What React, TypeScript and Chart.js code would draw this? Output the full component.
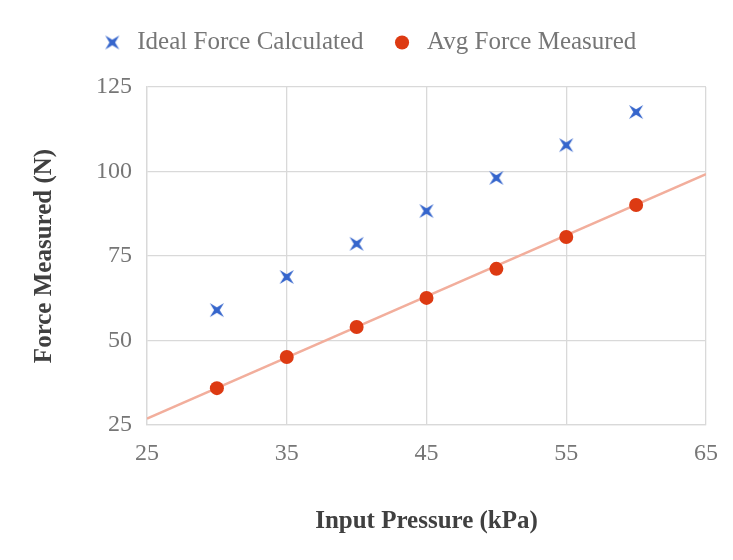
import { useRef, useEffect } from "react";
import Chart from "chart.js/auto";

const pressure = [30, 35, 40, 45, 50, 55, 60];
const idealForce = [59.0, 68.8, 78.6, 88.3, 98.1, 107.8, 117.6];
const avgForce = [35.9, 45.1, 54.0, 62.6, 71.2, 80.6, 90.1];
const trendX = [25, 65];
const trendY = [26.9, 99.2];

const FONT = "'Liberation Serif', 'DejaVu Serif', serif";

function makeStar(size: number, color: string) {
  const c = document.createElement("canvas");
  c.width = size;
  c.height = size;
  const ctx = c.getContext("2d")!;
  const r = size / 2;
  const inner = r * 0.28;
  ctx.translate(r, r);
  ctx.beginPath();
  for (let i = 0; i < 8; i++) {
    const a = Math.PI / 4 + (i * Math.PI) / 4;
    const rad = i % 2 === 0 ? r : inner;
    const px = Math.cos(a) * rad;
    const py = Math.sin(a) * rad;
    if (i === 0) ctx.moveTo(px, py);
    else ctx.lineTo(px, py);
  }
  ctx.closePath();
  ctx.fillStyle = color;
  ctx.fill();
  return c;
}

// make room under the legend, like the original
const legendSpace = {
  id: "legendSpace",
  beforeInit(chart: any) {
    const fit = chart.legend.fit;
    chart.legend.fit = function () {
      fit.call(this);
      this.height = 83;
    };
  },
};

export default function App() {
  const chartRef = useRef<HTMLCanvasElement>(null);
  const chartInstance = useRef<Chart | null>(null);

  useEffect(() => {
    document.body.style.margin = "0";
    if (chartRef.current && chartInstance.current === null) {
      const star = makeStar(20, "#3565CC");
      chartInstance.current = new Chart(chartRef.current, {
        type: "scatter",
        data: {
          datasets: [
            {
              label: "Ideal Force Calculated",
              data: pressure.map((x, i) => ({ x, y: idealForce[i] })),
              pointStyle: star,
              backgroundColor: "#3565CC",
              borderColor: "#3565CC",
              order: 1,
            },
            {
              label: "Avg Force Measured",
              data: pressure.map((x, i) => ({ x, y: avgForce[i] })),
              pointStyle: "circle",
              pointRadius: 7,
              backgroundColor: "#DD3A12",
              borderColor: "#DD3A12",
              borderWidth: 0,
              order: 2,
            },
            {
              type: "line",
              label: "trend",
              data: trendX.map((x, i) => ({ x, y: trendY[i] })),
              borderColor: "#F2AE9C",
              borderWidth: 2.5,
              pointRadius: 0,
              showLine: true,
              order: 3,
            },
          ],
        },
        options: {
          animation: false,
          responsive: false,
          maintainAspectRatio: false,
          layout: { padding: { left: 30, right: 27, top: 4, bottom: 16 } },
          scales: {
            x: {
              type: "linear",
              min: 25,
              max: 65,
              afterFit: (scale: any) => {
                scale.height = 119;
              },
              ticks: {
                stepSize: 10,
                color: "#767676",
                font: { family: FONT, size: 24 },
                padding: 14,
              },
              grid: { color: "#D9D9D9", lineWidth: 1.3, drawTicks: false },
              border: { color: "#D9D9D9", width: 1.3 },
              title: {
                display: true,
                text: "Input Pressure (kPa)",
                color: "#404040",
                font: { family: FONT, size: 25, weight: "bold" },
                padding: { top: 0, bottom: 7 },
              },
            },
            y: {
              type: "linear",
              min: 25,
              max: 125,
              afterFit: (scale: any) => {
                scale.width = 117;
              },
              ticks: {
                stepSize: 25,
                color: "#767676",
                font: { family: FONT, size: 24 },
                padding: 15,
              },
              grid: { color: "#D9D9D9", lineWidth: 1.3, drawTicks: false },
              border: { color: "#D9D9D9", width: 1.3 },
              title: {
                display: true,
                text: "Force Measured (N)",
                color: "#404040",
                font: { family: FONT, size: 25, weight: "bold" },
                padding: { top: 0, bottom: 0 },
              },
            },
          },
          plugins: {
            legend: {
              position: "top",
              labels: {
                usePointStyle: true,
                boxHeight: 10,
                color: "#767676",
                font: { family: FONT, size: 25 },
                padding: 26,
                filter: (item: any) => item.text !== "trend",
              },
            },
            tooltip: { enabled: false },
          },
        },
        plugins: [legendSpace],
      });
    }

    return () => {
      if (chartInstance.current) {
        chartInstance.current.destroy();
        chartInstance.current = null;
      }
    };
  }, []);

  return (
    <div style={{ width: 733, height: 560, background: "#fff" }}>
      <canvas ref={chartRef} width={733} height={560} style={{ width: 733, height: 560 }} />
    </div>
  );
}
